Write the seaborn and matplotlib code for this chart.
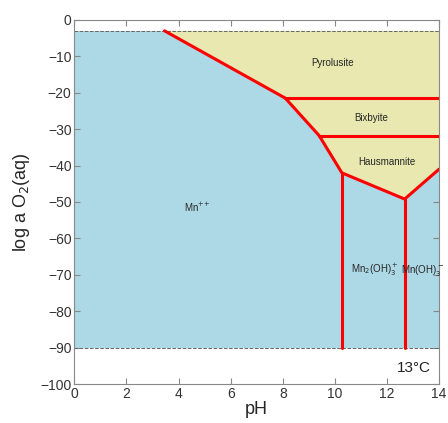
import numpy as np
import pandas as pd
import matplotlib
matplotlib.use('Agg')
import matplotlib.pyplot as plt
import seaborn as sns

# stability field boundaries (pH, log a O2)
outer_ph = [3.46, 8.1, 9.4, 10.27, 12.68, 14.0]
outer_o2 = [-3.0, -21.5, -31.8, -42.0, -49.2, -41.0]

pyro_bix_ph = [8.1, 14.0]
pyro_bix_o2 = [-21.5, -21.5]
bix_haus_ph = [9.4, 14.0]
bix_haus_o2 = [-31.8, -31.8]

vert1_ph = [10.27, 10.27]
vert1_o2 = [-42.0, -90.0]
vert2_ph = [12.68, 12.68]
vert2_o2 = [-49.2, -90.0]

water_top = -3.0
water_bottom = -90.0

labels = ['Pyrolusite', 'Bixbyite', 'Hausmannite', 'Mn$^{{+}{+}}$',
          'Mn$_2$(OH)$_3^+$', 'Mn(OH)$_3^-$']
label_ph = [9.9, 11.4, 12.0, 4.7, 11.55, 13.35]
label_o2 = [-11.8, -27.0, -39.0, -51.5, -68.7, -68.7]

sns.set_style('ticks')
plt.rcParams['font.family'] = ['Liberation Sans', 'DejaVu Sans']

fig = plt.figure(figsize=(4.48, 4.23), dpi=100)
ax = fig.add_axes([0.166, 0.092, 0.814, 0.861])

blue = '#add8e6'
yellow = '#e8e8b0'

# aqueous field
ax.fill_between([0, 14], water_bottom, water_top, color=blue, lw=0, zorder=0)
# mineral field
poly_x = outer_ph + [14.0, 14.0]
poly_y = outer_o2 + [water_top, water_top]
ax.fill(poly_x, poly_y, color=yellow, lw=0, zorder=1)

ax.axhline(water_top, color='#666666', ls='--', lw=0.7, zorder=2)
ax.axhline(water_bottom, color='#666666', ls='--', lw=0.7, zorder=2)

lines = [(outer_ph, outer_o2), (pyro_bix_ph, pyro_bix_o2),
         (bix_haus_ph, bix_haus_o2), (vert1_ph, vert1_o2), (vert2_ph, vert2_o2)]
for xs, ys in lines:
    df = pd.DataFrame({'pH': xs, 'o2': ys})
    sns.lineplot(data=df, x='pH', y='o2', sort=False, estimator=None,
                 color='red', lw=2.2, ax=ax, zorder=3)

for t, x, y in zip(labels, label_ph, label_o2):
    ax.text(x, y, t, fontsize=7, ha='center', va='center', zorder=4)

ax.text(13.7, -95.5, '13°C', fontsize=11, ha='right', va='center', color='#222222')

ax.set_xlim(0, 14)
ax.set_ylim(-100, 0)
ax.set_xticks(range(0, 15, 2))
ax.set_yticks(range(-100, 1, 10))
ax.set_xlabel('pH', fontsize=13, labelpad=0)
ax.set_ylabel('log a O$_2$(aq)', fontsize=13, labelpad=6)
ax.tick_params(direction='in', top=True, right=True, length=4, width=0.8,
               color='#888888', labelsize=10, labelcolor='#333333', pad=2)
for s in ax.spines.values():
    s.set_color('#888888')
    s.set_linewidth(0.8)

fig.savefig('out.png', dpi=100)
